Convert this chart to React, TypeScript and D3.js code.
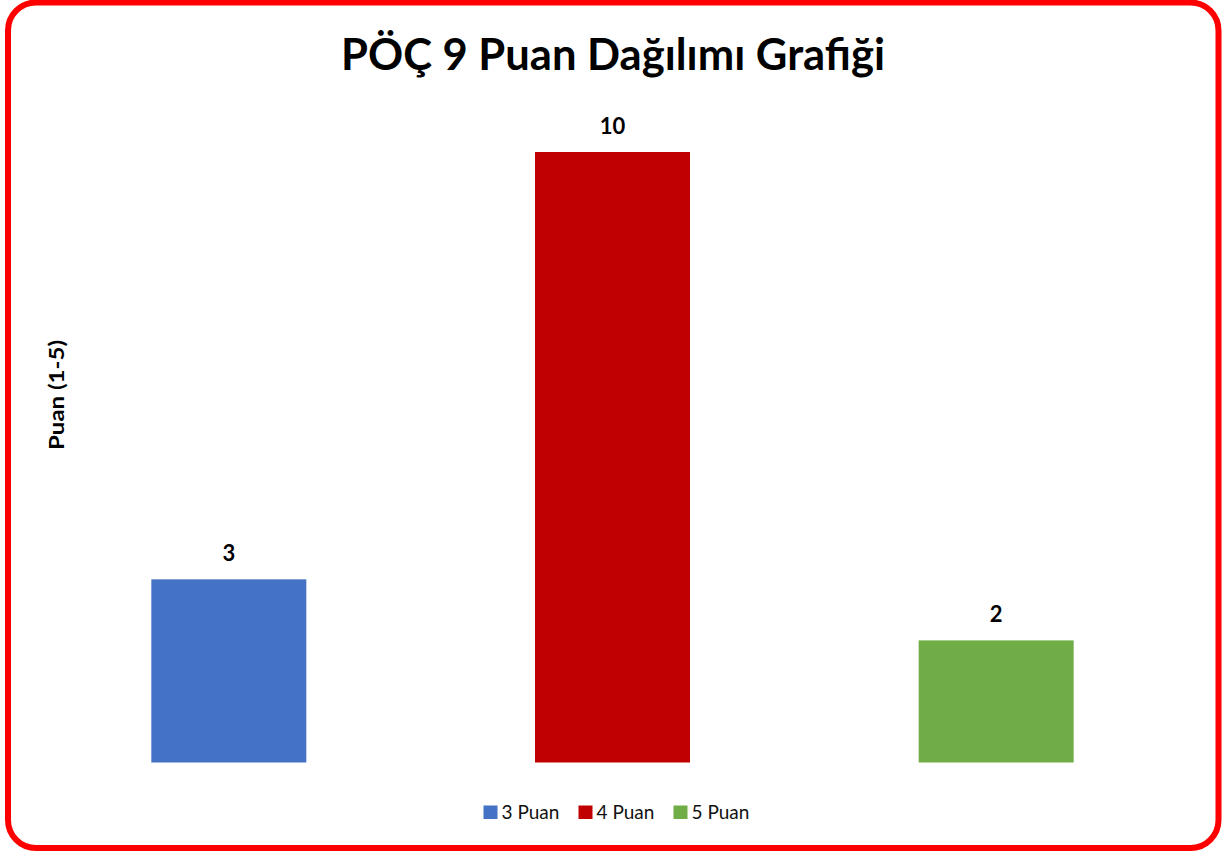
import React, { useEffect, useRef } from 'react';
import * as d3 from 'd3';

const categories = ['3 Puan', '4 Puan', '5 Puan'];
const values = [3, 10, 2];
const colors = ['#4472C4', '#C00000', '#70AD47'];
const chartTitle = 'PÖÇ 9 Puan Dağılımı Grafiği';
const yTitle = 'Puan (1-5)';

const width = 1226, height = 853;
const font = 'Lato, "Open Sans", sans-serif';

export default function App() {
    const ref = useRef<SVGSVGElement>(null);

    useEffect(() => {
        const svg = d3.select(ref.current);
        svg.selectAll('*').remove();

        /* Frame */
        svg.append('rect')
            .attr('width', width).attr('height', height)
            .attr('fill', '#fff');
        svg.append('rect')
            .attr('x', 8).attr('y', 2.5)
            .attr('width', 1210.5).attr('height', 845.5)
            .attr('rx', 28).attr('ry', 28)
            .attr('fill', 'none')
            .attr('stroke', '#FF0000')
            .attr('stroke-width', 6);

        /* Scales */
        const x = d3.scaleBand()
            .domain(categories)
            .range([37, 1188])
            .paddingInner(0.596)
            .paddingOuter(0.298);
        const y = d3.scaleLinear()
            .domain([0, 10])
            .range([762.5, 152]);

        /* Title */
        svg.append('text')
            .attr('x', 613).attr('y', 69.5)
            .attr('text-anchor', 'middle')
            .attr('textLength', 544)
            .attr('lengthAdjust', 'spacingAndGlyphs')
            .style('font', `bold 43.5px ${font}`)
            .text(chartTitle);

        /* Y title */
        svg.append('text')
            .attr('transform', 'translate(64,395) rotate(-90)')
            .attr('text-anchor', 'middle')
            .attr('textLength', 110)
            .attr('lengthAdjust', 'spacingAndGlyphs')
            .style('font', `bold 20px ${font}`)
            .text(yTitle);

        /* Bars */
        const g = svg.append('g');
        g.selectAll('rect')
            .data(values)
            .join('rect')
            .attr('x', (d, i) => x(categories[i]))
            .attr('y', d => y(d))
            .attr('width', x.bandwidth())
            .attr('height', d => y(0) - y(d))
            .attr('fill', (d, i) => colors[i]);

        /* Data labels */
        g.selectAll('text')
            .data(values)
            .join('text')
            .attr('x', (d, i) => x(categories[i]) + x.bandwidth() / 2)
            .attr('y', d => y(d) - 18.5)
            .attr('text-anchor', 'middle')
            .style('font', `bold 22px ${font}`)
            .text(d => d);

        /* Legend */
        const legendX = [483.5, 578.5, 673.5];
        const legend = svg.append('g')
            .selectAll('g')
            .data(categories)
            .join('g')
            .attr('transform', (d, i) => `translate(${legendX[i]},805.5)`);
        legend.append('rect')
            .attr('width', 14).attr('height', 13.5)
            .attr('fill', (d, i) => colors[i]);
        legend.append('text')
            .attr('x', 18).attr('y', 13)
            .style('font', `19px ${font}`)
            .attr('fill', '#111')
            .text(d => d);
    }, []);

    return (
        <svg ref={ref} width={width} height={height}
            style={{ position: 'absolute', left: 0, top: 0, display: 'block' }} />
    );
}
